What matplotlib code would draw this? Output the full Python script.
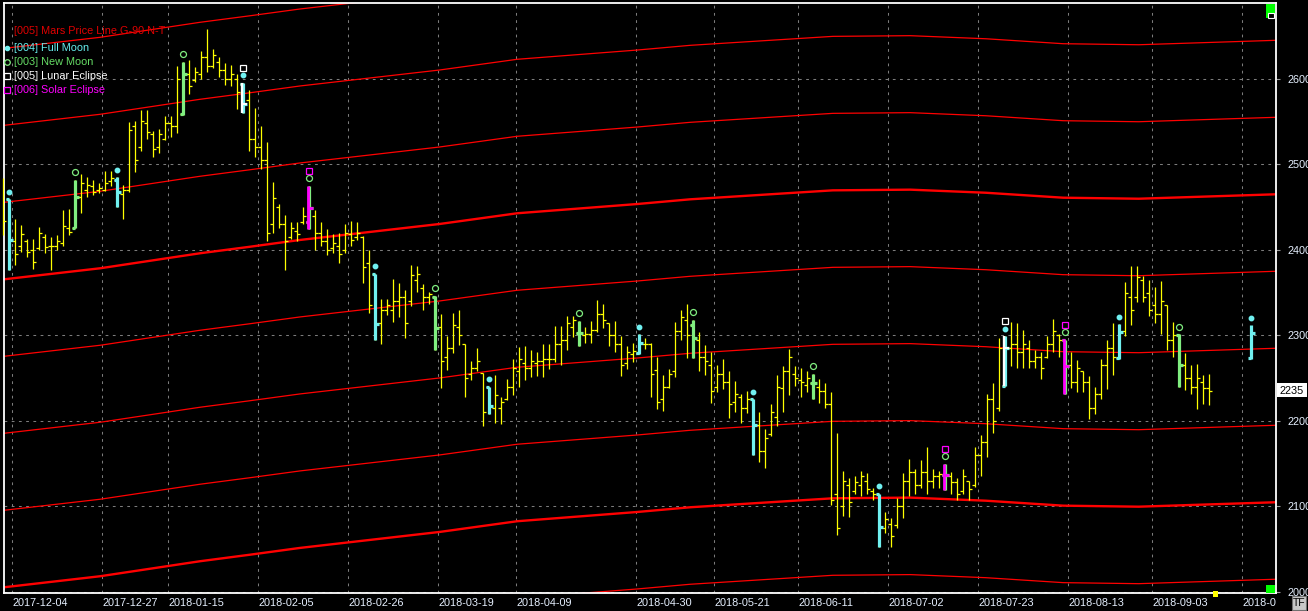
import matplotlib
matplotlib.use('Agg')
import matplotlib.pyplot as plt
import matplotlib.transforms as mtransforms
from matplotlib.patches import Rectangle
import numpy as np

plt.rcParams['font.family'] = ['Liberation Sans', 'DejaVu Sans']
plt.rcParams['lines.scale_dashes'] = False

# daily OHLC bars, row number = bar number
highs = [2484, 2459, 2436, 2429, 2413, 2413, 2427, 2419, 2415, 2417,
         2446, 2448, 2482, 2489, 2485, 2482, 2478, 2492, 2492, 2485,
         2476, 2549, 2551, 2563, 2564, 2539, 2541, 2556, 2556, 2615,
         2620, 2622, 2614, 2632, 2658, 2635, 2625, 2618, 2616, 2606,
         2595, 2587, 2566, 2545, 2526, 2479, 2454, 2441, 2432, 2433,
         2450, 2475, 2447, 2433, 2424, 2419, 2420, 2430, 2434, 2432,
         2416, 2400, 2372, 2342, 2343, 2366, 2361, 2353, 2382, 2381,
         2360, 2351, 2346, 2325, 2299, 2326, 2330, 2290, 2270, 2285,
         2256, 2240, 2254, 2228, 2249, 2272, 2286, 2287, 2283, 2281,
         2290, 2290, 2311, 2311, 2323, 2323, 2317, 2310, 2317, 2341,
         2337, 2315, 2317, 2299, 2288, 2291, 2301, 2297, 2291, 2275,
         2254, 2261, 2316, 2330, 2337, 2318, 2304, 2289, 2280, 2265,
         2272, 2258, 2247, 2232, 2235, 2225, 2210, 2191, 2220, 2254,
         2264, 2284, 2264, 2262, 2258, 2255, 2249, 2244, 2234, 2186,
         2142, 2133, 2136, 2142, 2139, 2121, 2115, 2094, 2086, 2110,
         2139, 2156, 2144, 2154, 2170, 2144, 2141, 2150, 2140, 2133,
         2144, 2130, 2170, 2184, 2232, 2244, 2297, 2299, 2316, 2314,
         2306, 2295, 2283, 2281, 2299, 2319, 2301, 2295, 2281, 2271,
         2258, 2252, 2240, 2272, 2294, 2314, 2313, 2362, 2381, 2381,
         2369, 2365, 2357, 2364, 2336, 2316, 2301, 2279, 2265, 2267,
         2254, 2255]
lows = [2417, 2376, 2382, 2397, 2392, 2378, 2400, 2396, 2376, 2400,
        2404, 2417, 2425, 2443, 2462, 2464, 2466, 2469, 2474, 2450,
        2436, 2468, 2491, 2515, 2530, 2508, 2513, 2528, 2532, 2536,
        2558, 2582, 2596, 2600, 2608, 2612, 2602, 2593, 2591, 2565,
        2560, 2516, 2509, 2495, 2410, 2420, 2425, 2376, 2413, 2410,
        2430, 2424, 2400, 2404, 2394, 2396, 2385, 2396, 2404, 2412,
        2361, 2326, 2295, 2290, 2324, 2316, 2322, 2297, 2334, 2351,
        2330, 2337, 2283, 2238, 2260, 2279, 2289, 2228, 2248, 2258,
        2194, 2208, 2198, 2196, 2224, 2230, 2240, 2248, 2251, 2252,
        2251, 2261, 2269, 2265, 2283, 2298, 2288, 2291, 2291, 2304,
        2308, 2288, 2281, 2253, 2261, 2269, 2278, 2284, 2228, 2214,
        2211, 2239, 2251, 2295, 2274, 2273, 2258, 2254, 2221, 2234,
        2237, 2203, 2210, 2197, 2209, 2160, 2152, 2145, 2182, 2194,
        2210, 2230, 2241, 2228, 2234, 2226, 2221, 2215, 2102, 2067,
        2089, 2088, 2115, 2112, 2115, 2108, 2053, 2069, 2052, 2075,
        2087, 2112, 2115, 2121, 2114, 2121, 2122, 2119, 2115, 2108,
        2115, 2108, 2123, 2136, 2158, 2186, 2212, 2241, 2264, 2262,
        2262, 2262, 2262, 2249, 2273, 2281, 2275, 2232, 2238, 2234,
        2234, 2202, 2208, 2226, 2237, 2254, 2272, 2299, 2312, 2339,
        2339, 2323, 2314, 2301, 2283, 2275, 2240, 2236, 2232, 2214,
        2220, 2218]
opens = [2440, 2459, 2410, 2404, 2410, 2400, 2402, 2415, 2405, 2404,
         2408, 2425, 2426, 2462, 2470, 2474, 2470, 2470, 2480, 2482,
         2465, 2470, 2545, 2520, 2548, 2535, 2520, 2530, 2548, 2545,
         2559, 2605, 2598, 2605, 2625, 2615, 2620, 2610, 2600, 2600,
         2594, 2575, 2530, 2520, 2505, 2430, 2450, 2430, 2415, 2422,
         2432, 2432, 2440, 2420, 2410, 2402, 2405, 2400, 2418, 2415,
         2415, 2385, 2372, 2315, 2330, 2330, 2340, 2345, 2340, 2365,
         2355, 2345, 2345, 2310, 2275, 2285, 2310, 2290, 2255, 2262,
         2256, 2240, 2215, 2215, 2225, 2240, 2258, 2268, 2262, 2268,
         2270, 2272, 2272, 2290, 2295, 2310, 2303, 2300, 2302, 2306,
         2325, 2315, 2300, 2290, 2268, 2278, 2279, 2290, 2290, 2260,
         2225, 2240, 2258, 2305, 2318, 2312, 2295, 2275, 2265, 2240,
         2255, 2245, 2222, 2228, 2215, 2225, 2195, 2165, 2185, 2205,
         2238, 2258, 2255, 2248, 2242, 2244, 2240, 2235, 2220, 2115,
         2100, 2125, 2118, 2125, 2130, 2118, 2114, 2075, 2080, 2078,
         2100, 2130, 2140, 2125, 2140, 2130, 2135, 2137, 2135, 2128,
         2118, 2130, 2125, 2160, 2175, 2225, 2215, 2241, 2285, 2290,
         2280, 2285, 2270, 2275, 2275, 2290, 2300, 2294, 2265, 2245,
         2258, 2245, 2215, 2232, 2265, 2285, 2273, 2305, 2345, 2345,
         2365, 2350, 2335, 2325, 2335, 2295, 2300, 2265, 2250, 2240,
         2245, 2238]
closes = [2434, 2411, 2395, 2418, 2398, 2386, 2420, 2403, 2405, 2410,
          2428, 2421, 2462, 2478, 2476, 2468, 2472, 2478, 2484, 2468,
          2470, 2540, 2505, 2550, 2538, 2518, 2535, 2548, 2545, 2600,
          2606, 2592, 2608, 2625, 2615, 2628, 2610, 2600, 2606, 2585,
          2571, 2530, 2520, 2505, 2420, 2460, 2430, 2410, 2425, 2418,
          2440, 2449, 2420, 2410, 2400, 2408, 2395, 2420, 2412, 2420,
          2380, 2335, 2313, 2330, 2335, 2340, 2345, 2315, 2370, 2372,
          2345, 2348, 2309, 2270, 2285, 2312, 2300, 2250, 2262, 2270,
          2210, 2217, 2230, 2222, 2240, 2262, 2272, 2262, 2270, 2270,
          2272, 2272, 2290, 2295, 2315, 2318, 2303, 2302, 2306, 2325,
          2318, 2300, 2290, 2265, 2280, 2282, 2291, 2290, 2255, 2222,
          2240, 2255, 2305, 2322, 2300, 2297, 2275, 2270, 2235, 2255,
          2245, 2220, 2232, 2215, 2225, 2195, 2165, 2180, 2210, 2240,
          2258, 2275, 2250, 2245, 2250, 2244, 2235, 2220, 2108, 2075,
          2130, 2105, 2128, 2135, 2120, 2115, 2076, 2085, 2065, 2100,
          2130, 2140, 2125, 2140, 2130, 2135, 2138, 2137, 2128, 2115,
          2135, 2120, 2160, 2175, 2225, 2200, 2285, 2285, 2290, 2280,
          2290, 2270, 2275, 2262, 2290, 2305, 2295, 2264, 2245, 2262,
          2245, 2215, 2232, 2265, 2285, 2275, 2304, 2350, 2330, 2368,
          2345, 2330, 2325, 2340, 2295, 2300, 2265, 2250, 2240, 2250,
          2238, 2235]

# moon / eclipse days (bar numbers)
event_bars = [1, 12, 19, 30, 40, 51, 62, 72, 81, 96, 106, 115, 125, 135,
              146, 157, 167, 177, 186, 196]
event_kinds = ['full', 'new', 'full', 'new', 'lunar', 'solar', 'full', 'new',
               'full', 'new', 'full', 'new', 'full', 'new', 'full', 'solar',
               'lunar', 'solar', 'full', 'new']
# full moon marked ahead of the last bar
future_bar = 208
future_ohlc = [2312, 2272, 2273, 2303]
last_price = 2235

# Mars price line (base harmonic), sampled along the bars
mars_bars = [0.17, 16.2, 32.8, 41.2, 49.5, 72.8, 85.7, 105.7, 114.5, 138.3,
             151.2, 163.8, 176.7, 189.3, 212.2]
mars_base = [2365.5, 2378.4, 2395.9, 2403.6, 2411.5, 2430.2, 2442.7, 2453.5,
             2459.0, 2469.5, 2470.3, 2466.7, 2460.9, 2459.7, 2464.9]
mars_offsets = [-450, -360, -270, -180, -90, 0, 90, 180, 270]

date_labels = ['2017-12-04', '2017-12-27', '2018-01-15', '2018-02-05',
               '2018-02-26', '2018-03-19', '2018-04-09', '2018-04-30',
               '2018-05-21', '2018-06-11', '2018-07-02', '2018-07-23',
               '2018-08-13', '2018-09-03', '2018-09-24']
date_bars = [1, 16, 27, 42, 57, 72, 85, 105, 118, 132, 147, 162, 177, 191, 206]
price_ticks = [2000, 2100, 2200, 2300, 2400, 2500, 2600]

legend_items = [('[005] Mars Price Line G-90 N-T', '#e00000', None),
                ('[004] Full Moon', '#66eeee', 'full'),
                ('[003] New Moon', '#66dd66', 'new'),
                ('[005] Lunar Eclipse', '#ffffff', 'lunar'),
                ('[006] Solar Eclipse', '#ff00ff', 'solar')]

YELLOW = '#ffff00'
CYAN = '#70f0f0'
GREEN = '#80ee80'
MAGENTA = '#ff00ff'
TXT = '#e6f0ff'

W, H = 1308, 611
fig = plt.figure(figsize=(W / 100, H / 100), dpi=100, facecolor='black')
# plot area in pixels: x 4..1276, y 3..593
ax = fig.add_axes([4 / W, (H - 593) / H, 1272 / W, 590 / H])
ax.set_facecolor('black')
ax.set_xlim(0.17, 212.17)
ax.set_ylim(1998.8, 2688.5)

# grid
grid_kw = dict(color='#7c7c7c', lw=0.75, ls=(0, (2, 3.2)), zorder=0)
for p in price_ticks:
    ax.axhline(p, **grid_kw)
for b in date_bars:
    ax.axvline(b + 0.55, **grid_kw)

# Mars price lines
mb = np.array(mars_base)
for off in mars_offsets:
    thick = off % 360 == 0
    ax.plot(mars_bars, mb + off, color='#ff0000', lw=1.7 if thick else 0.9,
            zorder=2)

# yellow OHLC bars
x = np.arange(len(highs))
ax.vlines(x, lows, highs, color=YELLOW, lw=0.9, zorder=3, clip_on=False)
ax.hlines(opens, x - 0.45, x, color=YELLOW, lw=0.9, zorder=3)
ax.hlines(closes, x, x + 0.45, color=YELLOW, lw=0.9, zorder=3)

up1 = mtransforms.ScaledTranslation(0, 0.075, fig.dpi_scale_trans)
up2 = mtransforms.ScaledTranslation(0, 0.15, fig.dpi_scale_trans)


def event_bar(b, h, l, o, c, kind):
    col = {'full': CYAN, 'new': GREEN, 'lunar': CYAN, 'solar': GREEN}[kind]
    ax.vlines(b, l, h, color=col, lw=2.3, zorder=4)
    ax.hlines(o, b - 0.55, b, color=col, lw=2.3, zorder=4)
    ax.hlines(c, b, b + 0.6, color=col, lw=2.3, zorder=4)
    if kind == 'lunar':
        ax.vlines(b - 0.12, l, h, color='white', lw=1.7, zorder=5)
        ax.hlines(c, b, b + 0.6, color='white', lw=1.5, zorder=5)
    if kind == 'solar':
        ax.vlines(b - 0.1, l, h, color=MAGENTA, lw=2.0, zorder=5)
        ax.hlines(c, b, b + 0.6, color=MAGENTA, lw=2.0, zorder=5)
        ax.hlines(o, b - 0.55, b, color=MAGENTA, lw=2.0, zorder=5)
    # markers above the high
    t1 = ax.transData + up1
    t2 = ax.transData + up2
    if kind in ('full', 'lunar'):
        ax.plot(b, h, 'o', ms=3.2, color=CYAN, mec=CYAN, transform=t1, zorder=6)
    if kind in ('new', 'solar'):
        ax.plot(b, h, 'o', ms=4.3, mfc='none', mec=GREEN, mew=0.9, transform=t1, zorder=6)
    if kind == 'lunar':
        ax.plot(b, h, 's', ms=4.5, mfc='none', mec='white', mew=0.9, transform=t2, zorder=6)
    if kind == 'solar':
        ax.plot(b, h, 's', ms=4.5, mfc='none', mec=MAGENTA, mew=0.9, transform=t2, zorder=6)


for b, kind in zip(event_bars, event_kinds):
    event_bar(b, highs[b], lows[b], opens[b], closes[b], kind)
event_bar(future_bar, *future_ohlc, 'full')

# axes look
for s in ax.spines.values():
    s.set_color('white')
    s.set_linewidth(1.3)
ax.yaxis.tick_right()
ax.set_yticks(price_ticks)
ax.set_yticklabels([str(p) for p in price_ticks])
ax.tick_params(axis='y', colors='#9a9a9a', labelcolor=TXT, length=3, width=0.8,
               pad=5, labelsize=7.8)
ax.set_xticks([b + 0.55 for b in date_bars])
ax.set_xticklabels(date_labels)
ax.tick_params(axis='x', length=0, pad=3.5, labelcolor=TXT, labelsize=7.8)
for lbl in ax.get_xticklabels():
    lbl.set_horizontalalignment('left')
clip = mtransforms.Bbox.from_extents(0, 0, 1276, H)
last = ax.xaxis.get_major_ticks()[-1].label1
last.set_clip_on(True)
last.set_clip_box(clip)


def px_rect(x0, y0, x1, y1, **kw):
    fig.add_artist(Rectangle((x0 / W, 1 - y1 / H), (x1 - x0) / W, (y1 - y0) / H,
                             transform=fig.transFigure, **kw))


# last price box
px_rect(1277, 383, 1307, 397, facecolor='white', edgecolor='none')
fig.text(1292 / W, 1 - 390.5 / H, str(last_price), color='black', fontsize=7.8,
         ha='center', va='center')

# little widgets in the corners
px_rect(1266, 4, 1275, 18, facecolor='#00ff00', edgecolor='none')
px_rect(1267.5, 12.5, 1273.5, 17.5, facecolor='black', edgecolor='white', lw=0.8)
px_rect(1266, 585, 1275, 593, facecolor='#00ff00', edgecolor='none')
px_rect(1213, 591, 1218, 597, facecolor=YELLOW, edgecolor='none')
px_rect(1292, 596, 1306, 610, facecolor='#c8c8c8', edgecolor='#707070', lw=0.8)
fig.text(1299 / W, 1 - 603 / H, 'TF', color='black', fontsize=7.5,
         ha='center', va='center')

# legend
rows_y = [30.5, 48, 62, 76, 90]
for (txt, col, kind), yy in zip(legend_items, rows_y):
    fy = 1 - yy / H
    fig.text(14 / W, fy, txt, color=col, fontsize=7.8, va='center', ha='left')
    mx = 7 / W
    if kind == 'full':
        fig.lines.append(plt.Line2D([mx], [fy], marker='o', ms=3, color=CYAN,
                                    transform=fig.transFigure))
    elif kind == 'new':
        fig.lines.append(plt.Line2D([mx], [fy], marker='o', ms=4, mfc='none',
                                    mec=GREEN, mew=0.9, transform=fig.transFigure))
    elif kind == 'lunar':
        fig.lines.append(plt.Line2D([mx], [fy], marker='s', ms=4.2, mfc='none',
                                    mec='white', mew=0.9, transform=fig.transFigure))
    elif kind == 'solar':
        fig.lines.append(plt.Line2D([mx], [fy], marker='s', ms=4.2, mfc='none',
                                    mec=MAGENTA, mew=0.9, transform=fig.transFigure))

fig.savefig('out.png', dpi=100, facecolor='black')
